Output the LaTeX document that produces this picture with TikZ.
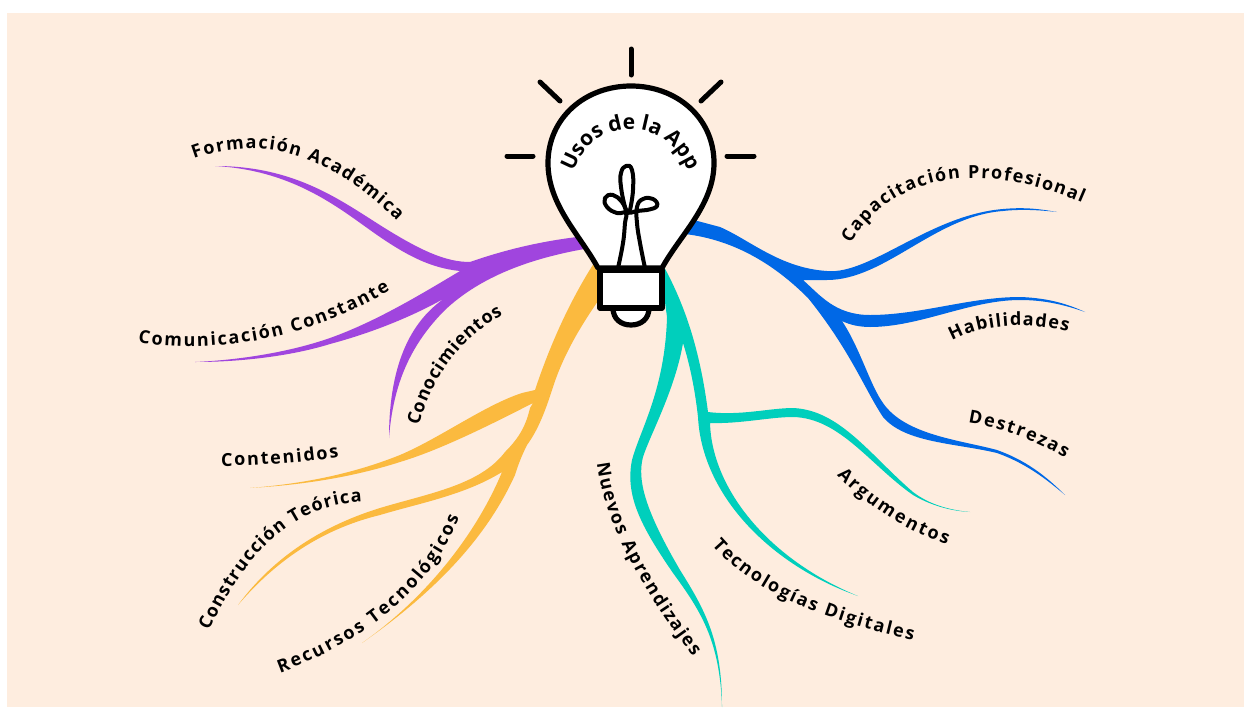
\documentclass[tikz,border=0pt]{standalone}
\usepackage{fontspec}
\setmainfont{Open Sans}
\usetikzlibrary{decorations.text}
\definecolor{paper}{HTML}{FEEDDF}
\definecolor{appviolet}{HTML}{A045DE}
\definecolor{appyellow}{HTML}{FBBA3F}
\definecolor{appteal}{HTML}{00CFBC}
\definecolor{appblue}{HTML}{0068E6}
\tikzstyle{bulbline} = [draw=black, line width=5.2pt, line join=round, fill=white]
\tikzstyle{filament} = [draw=black, line width=4pt, line cap=round, line join=round]
\tikzstyle{ray} = [draw=black, line width=5pt, line cap=round]
\tikzstyle{soft} = [smooth, tension=0.8]
\newcommand{\labelfont}{\fontsize{18}{20}\selectfont\bfseries}
\newcommand{\titlefont}{\fontsize{21}{23}\selectfont\bfseries}
\newcommand{\curvelabel}[5]{\path[decorate, decoration={text along path, text align={fit to path}, text={|\labelfont|#5}}] #1 .. controls #2 and #3 .. #4;}

\begin{document}
\begin{tikzpicture}[x=1pt, y=-1pt]
\useasboundingbox (0,0) rectangle (1244,707);
\fill[paper] (7,13) rectangle (1244,707);

% violet branches
\fill[appviolet] (590,235) -- (577,237) .. controls (545,241) and (510,248) .. (470,262)
  .. controls (445,262) and (420,250) .. (383,227) .. controls (340,200) and (295,166) .. (215,166)
  .. controls (290,170) and (335,205) .. (370,230) .. controls (405,255) and (430,268) .. (460,271)
  .. controls (420,295) and (375,322) .. (330,338) .. controls (290,352) and (240,360) .. (195,362)
  .. controls (245,362) and (295,355) .. (330,344) .. controls (375,332) and (415,315) .. (445,298)
  .. controls (405,325) and (389,375) .. (389,438)
  .. controls (393,385) and (410,345) .. (445,310) .. controls (480,277) and (530,258) .. (590,248) -- cycle;

% yellow branches
\fill[appyellow] (598,262) -- (600,298) .. controls (585,320) and (565,350) .. (553,387) .. controls (545,412) and (538,430) .. (527,445)
  .. controls (522,455) and (518,465) .. (515,475) .. controls (490,530) and (445,585) .. (362,643)
  .. controls (430,595) and (478,530) .. (502,472)
  .. controls (465,495) and (420,503) .. (380,515) .. controls (335,526) and (285,550) .. (238,605)
  .. controls (275,555) and (325,525) .. (380,508) .. controls (430,493) and (480,485) .. (505,452) .. controls (520,437) and (526,425) .. (530,408)
  -- (533,403) .. controls (490,425) and (440,450) .. (400,462) .. controls (350,478) and (300,485) .. (250,488)
  .. controls (300,484) and (350,475) .. (400,455) .. controls (440,438) and (485,405) .. (522,393) -- (535,390)
  .. controls (550,345) and (570,300) .. (596,260) -- cycle;

% teal branches
\fill[appteal] (663,265) .. controls (685,305) and (700,350) .. (708,412)
  .. controls (740,416) and (770,408) .. (793,408) .. controls (840,410) and (870,455) .. (913,492) .. controls (930,505) and (950,510) .. (970,512)
  .. controls (950,511) and (930,505) .. (913,495) .. controls (870,465) and (840,418) .. (793,417) .. controls (770,417) and (740,424) .. (710,423)
  .. controls (712,490) and (770,560) .. (858,596)
  .. controls (770,565) and (702,495) .. (698,417) .. controls (695,390) and (690,365) .. (683,343)
  .. controls (675,390) and (650,435) .. (643,457) .. controls (637,480) and (645,510) .. (680,570) .. controls (705,610) and (722,640) .. (722,707)
  .. controls (720,640) and (700,610) .. (673,573) .. controls (640,525) and (625,495) .. (632,460) .. controls (640,430) and (665,390) .. (667,317) -- (660,265) -- cycle;

% blue branches
\fill[appblue] (690,219) -- (720,227) .. controls (750,240) and (780,268) .. (827,271)
  .. controls (870,275) and (930,215) .. (1003,209) .. controls (1025,207) and (1040,209) .. (1057,212)
  .. controls (1040,210) and (1020,209) .. (1003,211) .. controls (935,216) and (885,280) .. (827,280) -- (803,280)
  .. controls (820,295) and (835,315) .. (870,315) .. controls (920,315) and (970,297) .. (1020,297) .. controls (1050,298) and (1070,305) .. (1085,312)
  .. controls (1065,305) and (1045,300) .. (1020,300) .. controls (970,300) and (920,327) .. (870,327) .. controls (860,327) and (850,325) .. (842,321)
  .. controls (860,348) and (870,385) .. (883,403) .. controls (905,435) and (960,440) .. (997,450) .. controls (1025,460) and (1045,475) .. (1065,495)
  .. controls (1045,478) and (1025,463) .. (997,453) .. controls (955,443) and (905,443) .. (883,417) .. controls (865,390) and (850,350) .. (808,298)
  .. controls (775,265) and (735,240) .. (685,234) -- cycle;

% bulb
\draw[ray] (631,49) -- (631,75);
\draw[ray] (507,156) -- (533,156);
\draw[ray] (727,156) -- (754,156);
\draw[ray] (540,82) -- (560,101);
\draw[ray] (721,82) -- (701,101);
\draw[bulbline] (613,308) .. controls (613,319) and (621,325) .. (631,325) .. controls (641,325) and (649,319) .. (649,308) -- cycle;
\draw[bulbline] (598,268) .. controls (580,235) and (548,205) .. (548,163) .. controls (548,118) and (585,86) .. (631,86) .. controls (677,86) and (714,118) .. (714,163) .. controls (714,205) and (680,235) .. (662,268) -- cycle;
\draw[bulbline] (600,270) rectangle (662,308);
\draw[filament] plot[soft] coordinates {(618,268) (623,243) (625,223) (626,213) (617,213) (607,207) (605,198) (613,195) (622,202) (628,212) (637,211) (647,210) (657,206) (653,199) (643,199) (637,207) (637,223) (640,243) (645,268)};
\draw[filament] plot[soft] coordinates {(630,210) (633,190) (632,170) (626,166) (621,173) (621,187) (625,207) (628,213)};
\path[decorate, decoration={text along path, text align={fit to path}, text={|\titlefont|Usos de la App}}] (574,172) .. controls (586,140) and (608,129) .. (630,129) .. controls (652,129) and (674,140) .. (688,170);

% labels
\curvelabel{(194,159)}{(245,140)}{(315,140)}{(397,221)}{Formación Académica}
\curvelabel{(138,342)}{(210,355)}{(310,340)}{(390,290)}{Comunicación Constante}
\curvelabel{(419,426)}{(432,375)}{(465,335)}{(503,315)}{Conocimientos}
\curvelabel{(221,466)}{(260,466)}{(300,463)}{(339,457)}{Contenidos}
\curvelabel{(209,631)}{(245,555)}{(290,505)}{(362,502)}{Construcción Teórica}
\curvelabel{(280,673)}{(355,645)}{(430,595)}{(459,517)}{Recursos Tecnológicos}
\curvelabel{(597,463)}{(605,530)}{(650,600)}{(693,657)}{Nuevos Aprendizajes}
\curvelabel{(712,545)}{(750,590)}{(820,620)}{(913,640)}{Tecnologías Digitales}
\curvelabel{(837,475)}{(865,505)}{(905,530)}{(947,545)}{Argumentos}
\curvelabel{(851,244)}{(880,190)}{(960,150)}{(1082,203)}{Capacitación Profesional}
\curvelabel{(952,341)}{(985,323)}{(1030,322)}{(1068,332)}{Habilidades}
\curvelabel{(968,423)}{(1000,428)}{(1035,440)}{(1065,458)}{Destrezas}
\end{tikzpicture}
\end{document}
